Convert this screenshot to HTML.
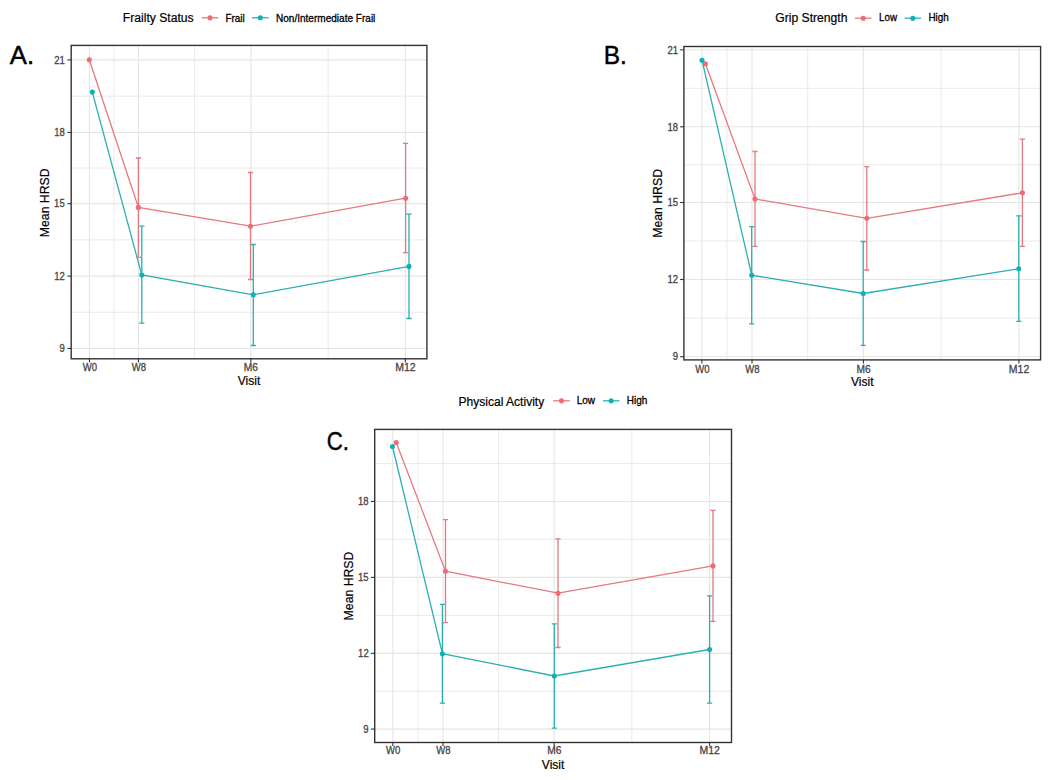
<!DOCTYPE html>
<html><head><meta charset="utf-8"><title>HRSD plots</title>
<style>
html,body{margin:0;padding:0;background:#fff;}
body{width:1050px;height:780px;overflow:hidden;}
svg{display:block;}
text{font-family:"Liberation Sans",sans-serif;}
.ax{fill:#444;stroke:#444;stroke-width:0.3px;}
.ti{fill:#000;stroke:#000;stroke-width:0.2px;}
.lg{fill:#000;stroke:#000;stroke-width:0.3px;}
.pl{fill:#000;stroke:#000;stroke-width:0.45px;}
</style></head><body>
<svg width="1050" height="780" viewBox="0 0 1050 780">
<rect width="1050" height="780" fill="#fff"/>
<g>
<line x1="71.2" y1="312.28" x2="426.9" y2="312.28" stroke="#EAEAEA" stroke-width="1"/>
<line x1="71.2" y1="239.88" x2="426.9" y2="239.88" stroke="#EAEAEA" stroke-width="1"/>
<line x1="71.2" y1="168.06" x2="426.9" y2="168.06" stroke="#EAEAEA" stroke-width="1"/>
<line x1="71.2" y1="96.18" x2="426.9" y2="96.18" stroke="#EAEAEA" stroke-width="1"/>
<line x1="113.93" y1="45.4" x2="113.93" y2="358.8" stroke="#EAEAEA" stroke-width="1"/>
<line x1="194.62" y1="45.4" x2="194.62" y2="358.8" stroke="#EAEAEA" stroke-width="1"/>
<line x1="328.09" y1="45.4" x2="328.09" y2="358.8" stroke="#EAEAEA" stroke-width="1"/>
<line x1="71.2" y1="348.46" x2="426.9" y2="348.46" stroke="#E5E5E5" stroke-width="1.1"/>
<line x1="71.2" y1="276.1" x2="426.9" y2="276.1" stroke="#E5E5E5" stroke-width="1.1"/>
<line x1="71.2" y1="203.65" x2="426.9" y2="203.65" stroke="#E5E5E5" stroke-width="1.1"/>
<line x1="71.2" y1="132.46" x2="426.9" y2="132.46" stroke="#E5E5E5" stroke-width="1.1"/>
<line x1="71.2" y1="59.9" x2="426.9" y2="59.9" stroke="#E5E5E5" stroke-width="1.1"/>
<line x1="89.46" y1="45.4" x2="89.46" y2="358.8" stroke="#E5E5E5" stroke-width="1.1"/>
<line x1="138.4" y1="45.4" x2="138.4" y2="358.8" stroke="#E5E5E5" stroke-width="1.1"/>
<line x1="250.84" y1="45.4" x2="250.84" y2="358.8" stroke="#E5E5E5" stroke-width="1.1"/>
<line x1="405.34" y1="45.4" x2="405.34" y2="358.8" stroke="#E5E5E5" stroke-width="1.1"/>
<path d="M89.3 59.8 L138.4 207.4 L250.5 226.2 L405.6 198.2" fill="none" stroke="#E47A80" stroke-width="1.3"/>
<path d="M92.3 92.1 L141.8 275 L253.3 294.8 L409 266.4" fill="none" stroke="#2BAFB3" stroke-width="1.3"/>
<path d="M138.4 158V257.3M135.8 158H141M135.8 257.3H141" fill="none" stroke="#E47A80" stroke-width="1.3"/>
<path d="M250.5 172.5V279.5M247.9 172.5H253.1M247.9 279.5H253.1" fill="none" stroke="#E47A80" stroke-width="1.3"/>
<path d="M405.6 143.3V252.6M403 143.3H408.2M403 252.6H408.2" fill="none" stroke="#E47A80" stroke-width="1.3"/>
<path d="M141.8 226.2V323.1M139.2 226.2H144.4M139.2 323.1H144.4" fill="none" stroke="#2BAFB3" stroke-width="1.3"/>
<path d="M253.3 244.5V345.5M250.7 244.5H255.9M250.7 345.5H255.9" fill="none" stroke="#2BAFB3" stroke-width="1.3"/>
<path d="M409 214.1V318.5M406.4 214.1H411.6M406.4 318.5H411.6" fill="none" stroke="#2BAFB3" stroke-width="1.3"/>
<circle cx="92.3" cy="92.1" r="2.55" fill="#0DB2B5"/>
<circle cx="141.8" cy="275" r="2.55" fill="#0DB2B5"/>
<circle cx="253.3" cy="294.8" r="2.55" fill="#0DB2B5"/>
<circle cx="409" cy="266.4" r="2.55" fill="#0DB2B5"/>
<circle cx="89.3" cy="59.8" r="2.55" fill="#F06B74"/>
<circle cx="138.4" cy="207.4" r="2.55" fill="#F06B74"/>
<circle cx="250.5" cy="226.2" r="2.55" fill="#F06B74"/>
<circle cx="405.6" cy="198.2" r="2.55" fill="#F06B74"/>
<rect x="71.2" y="45.4" width="355.7" height="313.4" fill="none" stroke="#333333" stroke-width="1.4"/>
<line x1="67.4" y1="348.46" x2="71.2" y2="348.46" stroke="#333333" stroke-width="1.1"/>
<text x="59.46" y="352.16" class="ax" style="font-size:10.8px" textLength="5.29" lengthAdjust="spacingAndGlyphs">9</text>
<line x1="67.4" y1="276.1" x2="71.2" y2="276.1" stroke="#333333" stroke-width="1.1"/>
<text x="54.21" y="279.8" class="ax" style="font-size:10.8px" textLength="10.57" lengthAdjust="spacingAndGlyphs">12</text>
<line x1="67.4" y1="203.65" x2="71.2" y2="203.65" stroke="#333333" stroke-width="1.1"/>
<text x="54.12" y="207.35" class="ax" style="font-size:10.8px" textLength="10.57" lengthAdjust="spacingAndGlyphs">15</text>
<line x1="67.4" y1="132.46" x2="71.2" y2="132.46" stroke="#333333" stroke-width="1.1"/>
<text x="54.14" y="136.16" class="ax" style="font-size:10.8px" textLength="10.57" lengthAdjust="spacingAndGlyphs">18</text>
<line x1="67.4" y1="59.9" x2="71.2" y2="59.9" stroke="#333333" stroke-width="1.1"/>
<text x="54.19" y="63.6" class="ax" style="font-size:10.8px" textLength="10.57" lengthAdjust="spacingAndGlyphs">21</text>
<line x1="89.46" y1="358.8" x2="89.46" y2="362.4" stroke="#333333" stroke-width="1.1"/>
<text x="82.77" y="371.2" class="ax" style="font-size:10.8px" textLength="14.3" lengthAdjust="spacingAndGlyphs">W0</text>
<line x1="138.4" y1="358.8" x2="138.4" y2="362.4" stroke="#333333" stroke-width="1.1"/>
<text x="131.76" y="371.2" class="ax" style="font-size:10.8px" textLength="14.25" lengthAdjust="spacingAndGlyphs">W8</text>
<line x1="250.84" y1="358.8" x2="250.84" y2="362.4" stroke="#333333" stroke-width="1.1"/>
<text x="243.85" y="371.2" class="ax" style="font-size:10.8px" textLength="14.18" lengthAdjust="spacingAndGlyphs">M6</text>
<line x1="405.34" y1="358.8" x2="405.34" y2="362.4" stroke="#333333" stroke-width="1.1"/>
<text x="395.28" y="371.2" class="ax" style="font-size:10.8px" textLength="20.39" lengthAdjust="spacingAndGlyphs">M12</text>
<text x="237.8" y="385.2" class="ti" style="font-size:12px" textLength="22.53" lengthAdjust="spacingAndGlyphs">Visit</text>
<text transform="translate(49 202.6) rotate(-90)" x="-34.6" y="0" class="ti" style="font-size:12px" textLength="68.78" lengthAdjust="spacingAndGlyphs">Mean HRSD</text>
<text x="122.8" y="21.9" class="ti" style="font-size:12px" textLength="70.83" lengthAdjust="spacingAndGlyphs">Frailty Status</text>
<line x1="201.7" y1="17.8" x2="218.3" y2="17.8" stroke="#E47A80" stroke-width="1.3"/>
<circle cx="210" cy="17.8" r="2.55" fill="#F06B74"/>
<text x="225.38" y="21.5" class="lg" style="font-size:10.8px" textLength="19.38" lengthAdjust="spacingAndGlyphs">Frail</text>
<line x1="252" y1="17.8" x2="268.6" y2="17.8" stroke="#2BAFB3" stroke-width="1.3"/>
<circle cx="260.3" cy="17.8" r="2.55" fill="#0DB2B5"/>
<text x="275.98" y="21.5" class="lg" style="font-size:10.8px" textLength="99.39" lengthAdjust="spacingAndGlyphs">Non/Intermediate Frail</text>
<text x="9.75" y="64" class="pl" style="font-size:25.6px" textLength="24.29" lengthAdjust="spacingAndGlyphs">A.</text>
<line x1="683.9" y1="318.1" x2="1040.6" y2="318.1" stroke="#EAEAEA" stroke-width="1"/>
<line x1="683.9" y1="241" x2="1040.6" y2="241" stroke="#EAEAEA" stroke-width="1"/>
<line x1="683.9" y1="164.65" x2="1040.6" y2="164.65" stroke="#EAEAEA" stroke-width="1"/>
<line x1="683.9" y1="88.3" x2="1040.6" y2="88.3" stroke="#EAEAEA" stroke-width="1"/>
<line x1="726.95" y1="46.5" x2="726.95" y2="359.9" stroke="#EAEAEA" stroke-width="1"/>
<line x1="807.7" y1="46.5" x2="807.7" y2="359.9" stroke="#EAEAEA" stroke-width="1"/>
<line x1="941.15" y1="46.5" x2="941.15" y2="359.9" stroke="#EAEAEA" stroke-width="1"/>
<line x1="683.9" y1="356.7" x2="1040.6" y2="356.7" stroke="#E5E5E5" stroke-width="1.1"/>
<line x1="683.9" y1="279.5" x2="1040.6" y2="279.5" stroke="#E5E5E5" stroke-width="1.1"/>
<line x1="683.9" y1="202.5" x2="1040.6" y2="202.5" stroke="#E5E5E5" stroke-width="1.1"/>
<line x1="683.9" y1="126.8" x2="1040.6" y2="126.8" stroke="#E5E5E5" stroke-width="1.1"/>
<line x1="683.9" y1="49.8" x2="1040.6" y2="49.8" stroke="#E5E5E5" stroke-width="1.1"/>
<line x1="701.9" y1="46.5" x2="701.9" y2="359.9" stroke="#E5E5E5" stroke-width="1.1"/>
<line x1="752" y1="46.5" x2="752" y2="359.9" stroke="#E5E5E5" stroke-width="1.1"/>
<line x1="863.4" y1="46.5" x2="863.4" y2="359.9" stroke="#E5E5E5" stroke-width="1.1"/>
<line x1="1018.9" y1="46.5" x2="1018.9" y2="359.9" stroke="#E5E5E5" stroke-width="1.1"/>
<path d="M705.4 63.8 L755 199 L866.8 218.3 L1022.4 192.8" fill="none" stroke="#E47A80" stroke-width="1.3"/>
<path d="M702 60.2 L751.7 275.2 L863.2 293.5 L1018.8 268.7" fill="none" stroke="#2BAFB3" stroke-width="1.3"/>
<path d="M755 151.5V246.4M752.4 151.5H757.6M752.4 246.4H757.6" fill="none" stroke="#E47A80" stroke-width="1.3"/>
<path d="M866.8 166.7V270M864.2 166.7H869.4M864.2 270H869.4" fill="none" stroke="#E47A80" stroke-width="1.3"/>
<path d="M1022.4 139.2V246.4M1019.8 139.2H1025M1019.8 246.4H1025" fill="none" stroke="#E47A80" stroke-width="1.3"/>
<path d="M751.7 226.7V323.8M749.1 226.7H754.3M749.1 323.8H754.3" fill="none" stroke="#2BAFB3" stroke-width="1.3"/>
<path d="M863.2 241.5V345.4M860.6 241.5H865.8M860.6 345.4H865.8" fill="none" stroke="#2BAFB3" stroke-width="1.3"/>
<path d="M1018.8 215.9V321.4M1016.2 215.9H1021.4M1016.2 321.4H1021.4" fill="none" stroke="#2BAFB3" stroke-width="1.3"/>
<circle cx="702" cy="60.2" r="2.55" fill="#0DB2B5"/>
<circle cx="751.7" cy="275.2" r="2.55" fill="#0DB2B5"/>
<circle cx="863.2" cy="293.5" r="2.55" fill="#0DB2B5"/>
<circle cx="1018.8" cy="268.7" r="2.55" fill="#0DB2B5"/>
<circle cx="705.4" cy="63.8" r="2.55" fill="#F06B74"/>
<circle cx="755" cy="199" r="2.55" fill="#F06B74"/>
<circle cx="866.8" cy="218.3" r="2.55" fill="#F06B74"/>
<circle cx="1022.4" cy="192.8" r="2.55" fill="#F06B74"/>
<rect x="683.9" y="46.5" width="356.7" height="313.4" fill="none" stroke="#333333" stroke-width="1.4"/>
<line x1="680.1" y1="356.7" x2="683.9" y2="356.7" stroke="#333333" stroke-width="1.1"/>
<text x="672.76" y="360.4" class="ax" style="font-size:10.8px" textLength="5.29" lengthAdjust="spacingAndGlyphs">9</text>
<line x1="680.1" y1="279.5" x2="683.9" y2="279.5" stroke="#333333" stroke-width="1.1"/>
<text x="667.51" y="283.2" class="ax" style="font-size:10.8px" textLength="10.57" lengthAdjust="spacingAndGlyphs">12</text>
<line x1="680.1" y1="202.5" x2="683.9" y2="202.5" stroke="#333333" stroke-width="1.1"/>
<text x="667.42" y="206.2" class="ax" style="font-size:10.8px" textLength="10.57" lengthAdjust="spacingAndGlyphs">15</text>
<line x1="680.1" y1="126.8" x2="683.9" y2="126.8" stroke="#333333" stroke-width="1.1"/>
<text x="667.44" y="130.5" class="ax" style="font-size:10.8px" textLength="10.57" lengthAdjust="spacingAndGlyphs">18</text>
<line x1="680.1" y1="49.8" x2="683.9" y2="49.8" stroke="#333333" stroke-width="1.1"/>
<text x="667.49" y="53.5" class="ax" style="font-size:10.8px" textLength="10.57" lengthAdjust="spacingAndGlyphs">21</text>
<line x1="701.9" y1="359.9" x2="701.9" y2="363.5" stroke="#333333" stroke-width="1.1"/>
<text x="695.21" y="372.6" class="ax" style="font-size:10.8px" textLength="14.3" lengthAdjust="spacingAndGlyphs">W0</text>
<line x1="752" y1="359.9" x2="752" y2="363.5" stroke="#333333" stroke-width="1.1"/>
<text x="745.36" y="372.6" class="ax" style="font-size:10.8px" textLength="14.25" lengthAdjust="spacingAndGlyphs">W8</text>
<line x1="863.4" y1="359.9" x2="863.4" y2="363.5" stroke="#333333" stroke-width="1.1"/>
<text x="856.41" y="372.6" class="ax" style="font-size:10.8px" textLength="14.18" lengthAdjust="spacingAndGlyphs">M6</text>
<line x1="1018.9" y1="359.9" x2="1018.9" y2="363.5" stroke="#333333" stroke-width="1.1"/>
<text x="1008.84" y="372.6" class="ax" style="font-size:10.8px" textLength="20.39" lengthAdjust="spacingAndGlyphs">M12</text>
<text x="851" y="386.1" class="ti" style="font-size:12px" textLength="22.53" lengthAdjust="spacingAndGlyphs">Visit</text>
<text transform="translate(662.4 203.2) rotate(-90)" x="-34.6" y="0" class="ti" style="font-size:12px" textLength="68.78" lengthAdjust="spacingAndGlyphs">Mean HRSD</text>
<text x="775.19" y="22.2" class="ti" style="font-size:12px" textLength="72.29" lengthAdjust="spacingAndGlyphs">Grip Strength</text>
<line x1="854.9" y1="18.2" x2="871.5" y2="18.2" stroke="#E47A80" stroke-width="1.3"/>
<circle cx="863.2" cy="18.2" r="2.55" fill="#F06B74"/>
<text x="879" y="21.4" class="lg" style="font-size:10.8px" textLength="17.98" lengthAdjust="spacingAndGlyphs">Low</text>
<line x1="904.5" y1="18.2" x2="921.1" y2="18.2" stroke="#2BAFB3" stroke-width="1.3"/>
<circle cx="912.8" cy="18.2" r="2.55" fill="#0DB2B5"/>
<text x="928.49" y="21.4" class="lg" style="font-size:10.8px" textLength="20.34" lengthAdjust="spacingAndGlyphs">High</text>
<text x="603.79" y="64" class="pl" style="font-size:25.6px" textLength="23.13" lengthAdjust="spacingAndGlyphs">B.</text>
<line x1="374.7" y1="691.23" x2="731.5" y2="691.23" stroke="#EAEAEA" stroke-width="1"/>
<line x1="374.7" y1="615.38" x2="731.5" y2="615.38" stroke="#EAEAEA" stroke-width="1"/>
<line x1="374.7" y1="539.43" x2="731.5" y2="539.43" stroke="#EAEAEA" stroke-width="1"/>
<line x1="374.7" y1="463.48" x2="731.5" y2="463.48" stroke="#EAEAEA" stroke-width="1"/>
<line x1="417.9" y1="429.4" x2="417.9" y2="742.5" stroke="#EAEAEA" stroke-width="1"/>
<line x1="498.57" y1="429.4" x2="498.57" y2="742.5" stroke="#EAEAEA" stroke-width="1"/>
<line x1="631.88" y1="429.4" x2="631.88" y2="742.5" stroke="#EAEAEA" stroke-width="1"/>
<line x1="374.7" y1="729.11" x2="731.5" y2="729.11" stroke="#E5E5E5" stroke-width="1.1"/>
<line x1="374.7" y1="653.34" x2="731.5" y2="653.34" stroke="#E5E5E5" stroke-width="1.1"/>
<line x1="374.7" y1="577.41" x2="731.5" y2="577.41" stroke="#E5E5E5" stroke-width="1.1"/>
<line x1="374.7" y1="501.46" x2="731.5" y2="501.46" stroke="#E5E5E5" stroke-width="1.1"/>
<line x1="392.8" y1="429.4" x2="392.8" y2="742.5" stroke="#E5E5E5" stroke-width="1.1"/>
<line x1="443" y1="429.4" x2="443" y2="742.5" stroke="#E5E5E5" stroke-width="1.1"/>
<line x1="554.15" y1="429.4" x2="554.15" y2="742.5" stroke="#E5E5E5" stroke-width="1.1"/>
<line x1="709.6" y1="429.4" x2="709.6" y2="742.5" stroke="#E5E5E5" stroke-width="1.1"/>
<path d="M396.2 442.5 L445.5 571.2 L558 593.2 L713 565.9" fill="none" stroke="#E47A80" stroke-width="1.3"/>
<path d="M392.5 446.5 L442.4 653.7 L554.3 676 L709.6 649.5" fill="none" stroke="#2BAFB3" stroke-width="1.3"/>
<path d="M445.5 519.7V622.7M442.9 519.7H448.1M442.9 622.7H448.1" fill="none" stroke="#E47A80" stroke-width="1.3"/>
<path d="M558 538.9V647.5M555.4 538.9H560.6M555.4 647.5H560.6" fill="none" stroke="#E47A80" stroke-width="1.3"/>
<path d="M713 510.4V621.3M710.4 510.4H715.6M710.4 621.3H715.6" fill="none" stroke="#E47A80" stroke-width="1.3"/>
<path d="M442.4 604.4V703.1M439.8 604.4H445M439.8 703.1H445" fill="none" stroke="#2BAFB3" stroke-width="1.3"/>
<path d="M554.3 623.8V728.2M551.7 623.8H556.9M551.7 728.2H556.9" fill="none" stroke="#2BAFB3" stroke-width="1.3"/>
<path d="M709.6 595.9V703.1M707 595.9H712.2M707 703.1H712.2" fill="none" stroke="#2BAFB3" stroke-width="1.3"/>
<circle cx="392.5" cy="446.5" r="2.55" fill="#0DB2B5"/>
<circle cx="442.4" cy="653.7" r="2.55" fill="#0DB2B5"/>
<circle cx="554.3" cy="676" r="2.55" fill="#0DB2B5"/>
<circle cx="709.6" cy="649.5" r="2.55" fill="#0DB2B5"/>
<circle cx="396.2" cy="442.5" r="2.55" fill="#F06B74"/>
<circle cx="445.5" cy="571.2" r="2.55" fill="#F06B74"/>
<circle cx="558" cy="593.2" r="2.55" fill="#F06B74"/>
<circle cx="713" cy="565.9" r="2.55" fill="#F06B74"/>
<rect x="374.7" y="429.4" width="356.8" height="313.1" fill="none" stroke="#333333" stroke-width="1.4"/>
<line x1="370.9" y1="729.11" x2="374.7" y2="729.11" stroke="#333333" stroke-width="1.1"/>
<text x="363.36" y="732.81" class="ax" style="font-size:10.8px" textLength="5.29" lengthAdjust="spacingAndGlyphs">9</text>
<line x1="370.9" y1="653.34" x2="374.7" y2="653.34" stroke="#333333" stroke-width="1.1"/>
<text x="358.11" y="657.04" class="ax" style="font-size:10.8px" textLength="10.57" lengthAdjust="spacingAndGlyphs">12</text>
<line x1="370.9" y1="577.41" x2="374.7" y2="577.41" stroke="#333333" stroke-width="1.1"/>
<text x="358.02" y="581.11" class="ax" style="font-size:10.8px" textLength="10.57" lengthAdjust="spacingAndGlyphs">15</text>
<line x1="370.9" y1="501.46" x2="374.7" y2="501.46" stroke="#333333" stroke-width="1.1"/>
<text x="358.04" y="505.16" class="ax" style="font-size:10.8px" textLength="10.57" lengthAdjust="spacingAndGlyphs">18</text>
<line x1="392.8" y1="742.5" x2="392.8" y2="746.1" stroke="#333333" stroke-width="1.1"/>
<text x="386.11" y="754.2" class="ax" style="font-size:10.8px" textLength="14.3" lengthAdjust="spacingAndGlyphs">W0</text>
<line x1="443" y1="742.5" x2="443" y2="746.1" stroke="#333333" stroke-width="1.1"/>
<text x="436.36" y="754.2" class="ax" style="font-size:10.8px" textLength="14.25" lengthAdjust="spacingAndGlyphs">W8</text>
<line x1="554.15" y1="742.5" x2="554.15" y2="746.1" stroke="#333333" stroke-width="1.1"/>
<text x="547.16" y="754.2" class="ax" style="font-size:10.8px" textLength="14.18" lengthAdjust="spacingAndGlyphs">M6</text>
<line x1="709.6" y1="742.5" x2="709.6" y2="746.1" stroke="#333333" stroke-width="1.1"/>
<text x="699.54" y="754.2" class="ax" style="font-size:10.8px" textLength="20.39" lengthAdjust="spacingAndGlyphs">M12</text>
<text x="541.85" y="768.9" class="ti" style="font-size:12px" textLength="22.53" lengthAdjust="spacingAndGlyphs">Visit</text>
<text transform="translate(353.3 585.8) rotate(-90)" x="-34.6" y="0" class="ti" style="font-size:12px" textLength="68.78" lengthAdjust="spacingAndGlyphs">Mean HRSD</text>
<text x="458.51" y="405.5" class="ti" style="font-size:12px" textLength="85.72" lengthAdjust="spacingAndGlyphs">Physical Activity</text>
<line x1="553.2" y1="400.8" x2="569.8" y2="400.8" stroke="#E47A80" stroke-width="1.3"/>
<circle cx="561.5" cy="400.8" r="2.55" fill="#F06B74"/>
<text x="576.68" y="404.4" class="lg" style="font-size:10.8px" textLength="18.4" lengthAdjust="spacingAndGlyphs">Low</text>
<line x1="602.9" y1="400.8" x2="619.5" y2="400.8" stroke="#2BAFB3" stroke-width="1.3"/>
<circle cx="611.2" cy="400.8" r="2.55" fill="#0DB2B5"/>
<text x="626.68" y="404.4" class="lg" style="font-size:10.8px" textLength="20.66" lengthAdjust="spacingAndGlyphs">High</text>
<text x="326.69" y="450.2" class="pl" style="font-size:25.6px" textLength="22.24" lengthAdjust="spacingAndGlyphs">C.</text>
</g>
</svg>
</body></html>
